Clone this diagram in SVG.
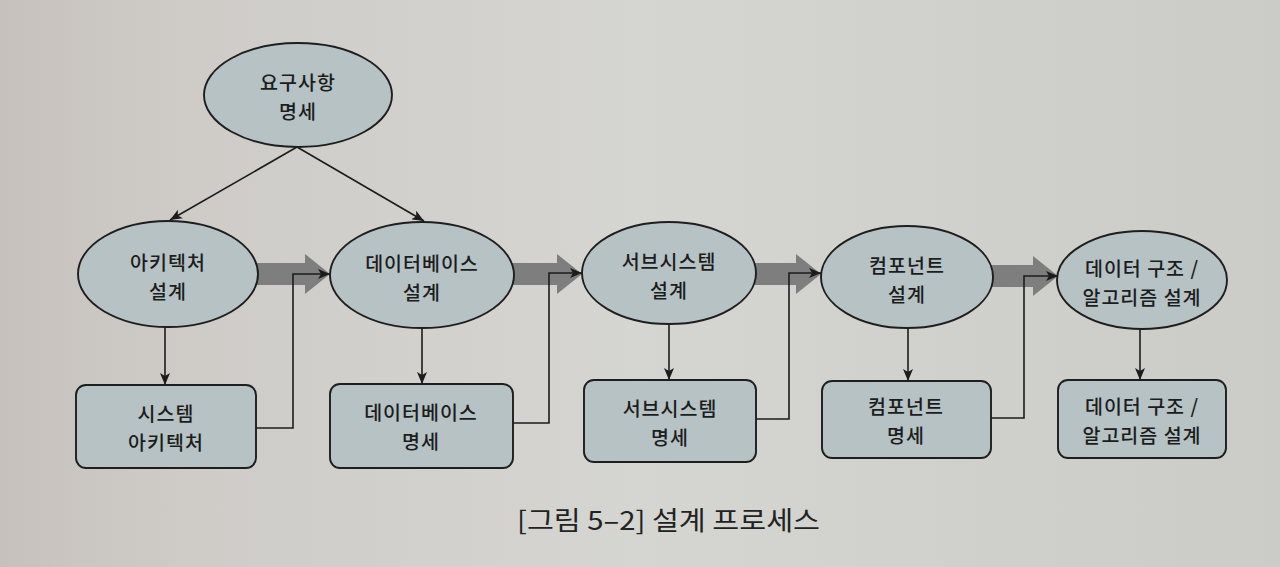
<svg xmlns="http://www.w3.org/2000/svg" width="1280" height="567" viewBox="0 0 1280 567">
  <defs>
    <linearGradient id="paper" x1="0" y1="0" x2="1" y2="0">
      <stop offset="0" stop-color="#c6c1bc"/>
      <stop offset="0.15" stop-color="#cfccc8"/>
      <stop offset="0.5" stop-color="#d5d5d1"/>
      <stop offset="1" stop-color="#cbcbc7"/>
    </linearGradient>
    <marker id="ah" viewBox="0 0 12 10" refX="12" refY="5" markerWidth="12" markerHeight="10" markerUnits="userSpaceOnUse" orient="auto">
      <path d="M0,0 L12,5 L0,10 L3,5 Z" fill="#1c1c1c"/>
    </marker>
    <style>
      .node { fill: #b6c2c4; stroke: #1e1e1e; stroke-width: 1.9; }
      .lbl { font-family: "Noto Sans CJK KR", "Noto Sans", sans-serif; font-size: 19.5px; letter-spacing: 1px; font-weight: 500; fill: #1c1c1c; text-anchor: middle; dominant-baseline: central; }
      .cap { font-family: "Noto Sans CJK KR", "Noto Sans", sans-serif; font-size: 26px; font-weight: 400; fill: #222; }
      .ln { fill: none; stroke: #1c1c1c; stroke-width: 1.6; marker-end: url(#ah); }
      .big { fill: #7e7e7e; }
    </style>
  </defs>
  <rect width="1280" height="567" fill="url(#paper)"/>

  <g id="flow-arrows">
    <polygon class="big" points="252,263 305,263 305,254 330,274 305,294 305,285 252,285"/>
    <polygon class="big" points="508,263 557,263 557,254 582,274 557,294 557,285 508,285"/>
    <polygon class="big" points="750,263 796,263 796,254 821,274 796,294 796,285 750,285"/>
    <polygon class="big" points="986,265 1033,265 1033,256 1058,276 1033,296 1033,287 986,287"/>
  </g>

  <g id="connectors">
    <line class="ln" x1="297" y1="147" x2="170" y2="220"/>
    <line class="ln" x1="297" y1="147" x2="424" y2="221"/>
    <line class="ln" x1="165" y1="327" x2="165" y2="385"/>
    <line class="ln" x1="422" y1="328" x2="422" y2="384"/>
    <line class="ln" x1="669" y1="323" x2="669" y2="380"/>
    <line class="ln" x1="908" y1="328" x2="908" y2="381"/>
    <line class="ln" x1="1140" y1="329" x2="1140" y2="380"/>
    <polyline class="ln" points="256,428 293,428 293,274 330,274"/>
    <polyline class="ln" points="513,423 549,423 549,273 582,273"/>
    <polyline class="ln" points="756,419 789,419 789,273 821,273"/>
    <polyline class="ln" points="991,418 1024,418 1024,276 1058,276"/>
  </g>

  <g id="req-spec">
    <ellipse class="node" cx="298" cy="95" rx="94" ry="52"/>
    <text class="lbl"><tspan x="298" y="81">요구사항</tspan><tspan x="298" y="109.5">명세</tspan></text>
  </g>

  <g id="arch-design">
    <ellipse class="node" cx="168" cy="274" rx="90" ry="53"/>
    <text class="lbl"><tspan x="168" y="261">아키텍처</tspan><tspan x="168" y="289.5">설계</tspan></text>
  </g>
  <g id="db-design">
    <ellipse class="node" cx="422" cy="275" rx="92" ry="53"/>
    <text class="lbl"><tspan x="422" y="262">데이터베이스</tspan><tspan x="422" y="290.5">설계</tspan></text>
  </g>
  <g id="subsys-design">
    <ellipse class="node" cx="669" cy="273" rx="87" ry="51"/>
    <text class="lbl"><tspan x="669" y="260">서브시스템</tspan><tspan x="669" y="288.5">설계</tspan></text>
  </g>
  <g id="comp-design">
    <ellipse class="node" cx="907" cy="277" rx="86" ry="51"/>
    <text class="lbl"><tspan x="907" y="264">컴포넌트</tspan><tspan x="907" y="292.5">설계</tspan></text>
  </g>
  <g id="ds-algo-design">
    <ellipse class="node" cx="1142" cy="280" rx="85" ry="49"/>
    <text class="lbl"><tspan x="1142" y="267">데이터 구조 /</tspan><tspan x="1142" y="295.5">알고리즘 설계</tspan></text>
  </g>

  <g id="sys-arch">
    <rect class="node" x="76" y="385" width="180" height="83" rx="10"/>
    <text class="lbl"><tspan x="166" y="412">시스템</tspan><tspan x="166" y="440.5">아키텍처</tspan></text>
  </g>
  <g id="db-spec">
    <rect class="node" x="330" y="384" width="183" height="84" rx="10"/>
    <text class="lbl"><tspan x="421" y="411">데이터베이스</tspan><tspan x="421" y="439.5">명세</tspan></text>
  </g>
  <g id="subsys-spec">
    <rect class="node" x="584" y="380" width="172" height="82" rx="10"/>
    <text class="lbl"><tspan x="670" y="407">서브시스템</tspan><tspan x="670" y="435.5">명세</tspan></text>
  </g>
  <g id="comp-spec">
    <rect class="node" x="822" y="381" width="169" height="77" rx="10"/>
    <text class="lbl"><tspan x="906" y="405">컴포넌트</tspan><tspan x="906" y="433.5">명세</tspan></text>
  </g>
  <g id="ds-algo-spec">
    <rect class="node" x="1058" y="380" width="168" height="78" rx="10"/>
    <text class="lbl"><tspan x="1142" y="405">데이터 구조 /</tspan><tspan x="1142" y="433.5">알고리즘 설계</tspan></text>
  </g>

  <text class="cap" x="517" y="530" textLength="303" lengthAdjust="spacingAndGlyphs">[그림 5–2] 설계 프로세스</text>
</svg>
